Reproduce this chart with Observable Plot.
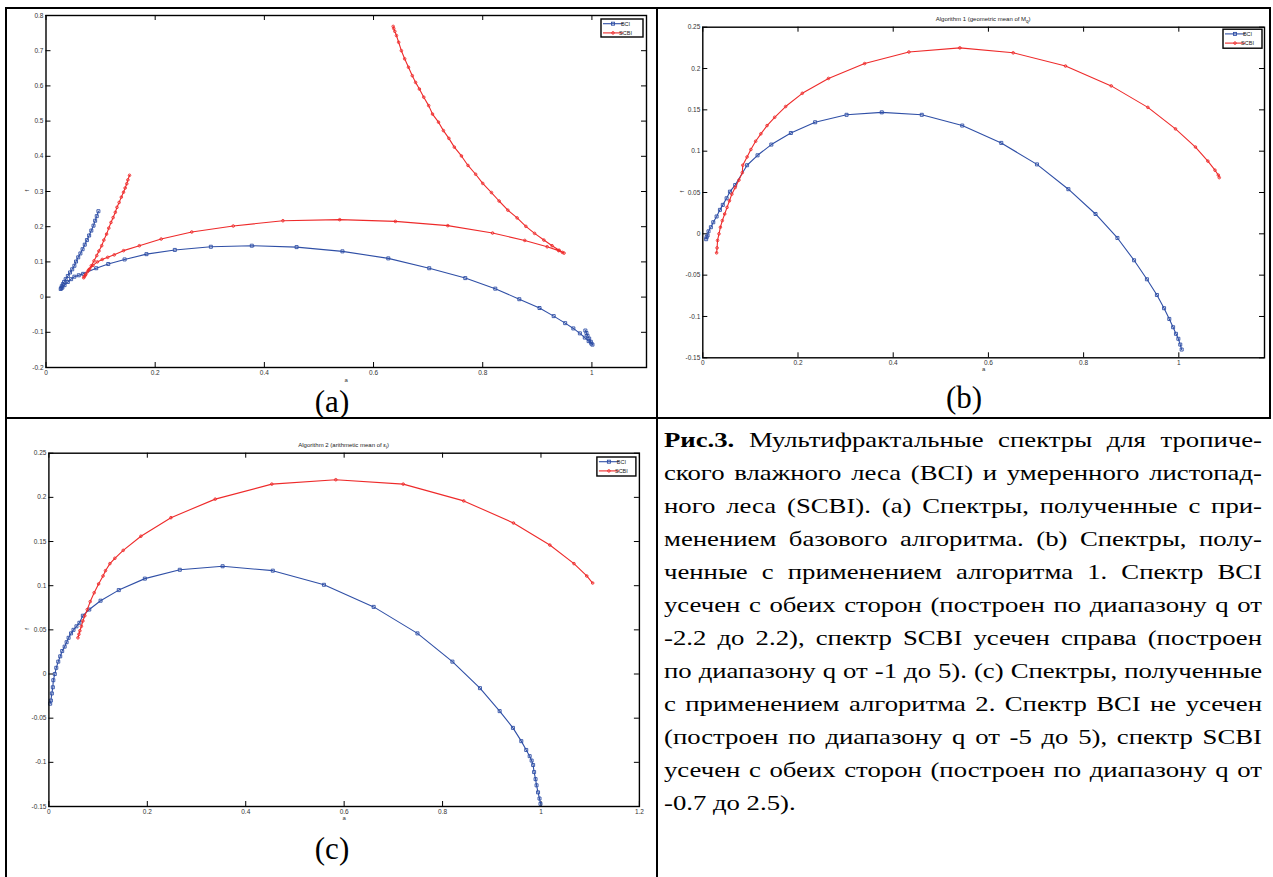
<!DOCTYPE html>
<html>
<head>
<meta charset="utf-8">
<script src="https://cdn.jsdelivr.net/npm/d3@7"></script>
<script src="https://cdn.jsdelivr.net/npm/@observablehq/plot@0.6"></script>
<style>
  html, body { margin: 0; padding: 0; background: #fff; }
  #page { position: relative; width: 1273px; height: 877px; overflow: hidden; background: #fff; }
  .plot { position: absolute; }
  .caption { position: absolute; left: 664px; top: 424px; width: 598px; font-family: "Liberation Serif", "Times New Roman", serif; font-size: 21.5px; line-height: 33px; color: #000; transform-origin: 0 0; }
  .caption div { white-space: nowrap; text-align: justify; text-align-last: justify; }
  .caption div.last { text-align-last: left; }
  .caption.measure div { text-align: left; text-align-last: left; }
</style>
</head>
<body>
<div id="page"></div>
<script>
// ---------- data ----------
const seriesNames = ["BCI", "SCBI"];

// (a) basic algorithm
const aBciX = [0.096,0.093,0.090,0.087,0.083,0.079,0.075,0.071,0.067,0.063,0.059,0.055,0.052,0.048,0.044,0.040,0.036,0.033,0.031,0.029,0.028,0.027,
  0.030,0.034,0.040,0.046,0.052,0.060,0.068,0.092,0.114,0.144,0.184,0.236,0.302,0.377,0.459,0.543,0.627,0.702,0.768,0.823,0.867,0.904,0.930,0.951,0.966,0.978,0.987,0.994,0.999,1.001,
  0.998,0.995,0.992,0.990,0.988];
const aBciY = [0.244,0.230,0.217,0.203,0.189,0.175,0.162,0.149,0.136,0.124,0.113,0.101,0.089,0.079,0.070,0.060,0.051,0.043,0.037,0.031,0.026,0.023,
  0.027,0.034,0.043,0.051,0.058,0.062,0.066,0.082,0.094,0.107,0.122,0.134,0.143,0.146,0.142,0.130,0.110,0.082,0.054,0.024,-0.006,-0.031,-0.054,-0.074,-0.089,-0.103,-0.115,-0.125,-0.132,-0.135,
  -0.127,-0.118,-0.110,-0.102,-0.095];
const aScbiX = [0.153,0.150,0.148,0.145,0.142,0.138,0.134,0.130,0.127,0.123,0.119,0.115,0.111,0.106,0.102,0.097,0.093,0.088,0.083,0.078,0.073,0.070,0.069,
  0.072,0.076,0.080,0.086,0.094,0.103,0.113,0.125,0.142,0.171,0.211,0.267,0.343,0.434,0.538,0.640,0.736,0.818,0.877,0.918,0.939,0.946,0.949,
  0.940,0.927,0.912,0.895,0.879,0.863,0.846,0.830,0.816,0.800,0.787,0.773,0.761,0.748,0.738,0.728,0.719,0.708,0.701,0.692,0.684,0.677,0.671,0.664,0.657,0.651,0.646,0.642,0.639,0.637,0.636];
const aScbiY = [0.346,0.333,0.322,0.310,0.298,0.284,0.269,0.255,0.241,0.226,0.212,0.196,0.179,0.162,0.146,0.131,0.118,0.103,0.089,0.077,0.065,0.058,0.055,
  0.062,0.072,0.080,0.090,0.100,0.107,0.113,0.120,0.132,0.146,0.165,0.185,0.202,0.217,0.220,0.215,0.203,0.182,0.161,0.143,0.132,0.127,0.125,
  0.133,0.146,0.162,0.181,0.201,0.225,0.247,0.273,0.297,0.323,0.349,0.374,0.401,0.426,0.451,0.473,0.497,0.520,0.544,0.568,0.591,0.610,0.629,0.653,0.677,0.700,0.724,0.743,0.755,0.763,0.769];

// (b) algorithm 1
const bBciX = [0.007,0.008,0.010,0.012,0.017,0.022,0.029,0.036,0.042,0.050,0.057,0.068,0.093,0.115,0.144,0.185,0.236,0.302,0.376,0.460,0.545,0.627,0.702,0.768,0.825,0.871,0.906,0.933,0.954,0.969,0.980,0.988,0.994,0.999,1.003,1.006];
const bBciY = [-0.0065,-0.004,-0.002,0.003,0.008,0.014,0.021,0.029,0.035,0.043,0.051,0.059,0.083,0.095,0.108,0.122,0.135,0.144,0.147,0.144,0.131,0.110,0.084,0.054,0.024,-0.005,-0.032,-0.055,-0.074,-0.090,-0.103,-0.113,-0.121,-0.127,-0.134,-0.140];
const bScbiX = [0.029,0.030,0.031,0.034,0.037,0.041,0.046,0.051,0.056,0.061,0.068,0.076,0.083,0.084,0.093,0.101,0.111,0.122,0.135,0.151,0.174,0.209,0.264,0.340,0.433,0.540,0.652,0.762,0.858,0.935,0.993,1.035,1.061,1.076,1.083,1.085];
const bScbiY = [-0.023,-0.017,-0.008,0.000,0.008,0.016,0.024,0.032,0.040,0.048,0.056,0.065,0.074,0.083,0.093,0.102,0.112,0.121,0.131,0.141,0.154,0.170,0.188,0.206,0.220,0.225,0.219,0.203,0.179,0.153,0.127,0.105,0.088,0.077,0.071,0.068];

// (c) algorithm 2
const cBciX = [0.0026,0.004,0.006,0.008,0.009,0.012,0.015,0.019,0.023,0.027,0.032,0.036,0.040,0.045,0.050,0.056,0.062,0.069,0.082,0.105,0.142,0.195,0.266,0.353,0.455,0.559,0.660,0.749,0.820,0.876,0.916,0.943,0.960,0.970,0.977,0.981,0.984,0.986,0.989,0.991,0.994,0.997,0.999];
const cBciY = [-0.0336,-0.030,-0.022,-0.015,-0.007,0.000,0.007,0.014,0.020,0.026,0.031,0.036,0.041,0.046,0.050,0.054,0.058,0.066,0.073,0.083,0.095,0.108,0.118,0.122,0.117,0.101,0.076,0.046,0.014,-0.016,-0.042,-0.061,-0.076,-0.086,-0.093,-0.098,-0.103,-0.111,-0.119,-0.126,-0.134,-0.141,-0.147];
const cScbiX = [0.059,0.061,0.063,0.066,0.069,0.073,0.078,0.084,0.092,0.101,0.110,0.115,0.124,0.134,0.151,0.187,0.248,0.338,0.453,0.583,0.720,0.843,0.944,1.018,1.067,1.093,1.105];
const cScbiY = [0.041,0.045,0.049,0.054,0.060,0.066,0.073,0.082,0.092,0.102,0.111,0.117,0.125,0.131,0.140,0.156,0.177,0.198,0.215,0.220,0.215,0.196,0.171,0.146,0.125,0.111,0.103];

// ticks
const xTicksAB = [0, 0.2, 0.4, 0.6, 0.8, 1];
const xTicksC = [0, 0.2, 0.4, 0.6, 0.8, 1, 1.2];
const yTicksA = [-0.2, -0.1, 0, 0.1, 0.2, 0.3, 0.4, 0.5, 0.6, 0.7, 0.8];
const yTicksBC = [-0.15, -0.1, -0.05, 0, 0.05, 0.1, 0.15, 0.2, 0.25];

const BLUE = "#2f4fa6";
const RED = "#ee2a2a";

function pts(xs, ys) { return xs.map((x, i) => ({x, y: ys[i]})); }
const fmt = d => String(+d.toFixed(2));

function makeChart(cfg) {
  const fw = cfg.width - cfg.mL - cfg.mR;
  const fh = cfg.height - cfg.mT - cfg.mB;
  const blue = pts(cfg.bx, cfg.by), red = pts(cfg.rx, cfg.ry);
  const svg = Plot.plot({
    width: cfg.width, height: cfg.height,
    marginLeft: cfg.mL, marginRight: cfg.mR, marginTop: cfg.mT, marginBottom: cfg.mB,
    x: {domain: cfg.xDomain},
    y: {domain: cfg.yDomain},
    style: {background: "white", fontFamily: "'Liberation Sans', Arial, sans-serif", fontSize: "6.5px", color: "#333", overflow: "visible"},
    marks: [
      Plot.axisX({ticks: cfg.xTicks, tickSize: 0, tickPadding: 2.5, tickFormat: fmt, label: null, fontSize: 6.5}),
      Plot.axisY({ticks: cfg.yTicks, tickSize: 0, tickPadding: 2.5, tickFormat: fmt, label: null, fontSize: 6.5}),
      Plot.ruleX(cfg.xTicks, {x: d => d, insetTop: fh - 5, stroke: "#000", strokeWidth: 1}),
      Plot.ruleX(cfg.xTicks, {x: d => d, insetBottom: fh - 5, stroke: "#000", strokeWidth: 1}),
      Plot.ruleY(cfg.yTicks, {y: d => d, insetRight: fw - 5, stroke: "#000", strokeWidth: 1}),
      Plot.ruleY(cfg.yTicks, {y: d => d, insetLeft: fw - 5, stroke: "#000", strokeWidth: 1}),
      Plot.line(blue, {x: "x", y: "y", stroke: BLUE, strokeWidth: 1.1}),
      Plot.dot(blue, {x: "x", y: "y", symbol: "square", r: 1.7, stroke: BLUE, strokeWidth: 0.9, fill: "none"}),
      Plot.line(red, {x: "x", y: "y", stroke: RED, strokeWidth: 1.1}),
      Plot.dot(red, {x: "x", y: "y", symbol: "circle", r: 1.3, stroke: RED, strokeWidth: 0.9, fill: "none"}),
      Plot.frame({stroke: "#000", strokeWidth: 1.4}),
      Plot.text(["a"], {frameAnchor: "bottom", dy: cfg.aDy, fontSize: 6, fill: "#333"}),
      Plot.text(["f"], {frameAnchor: "left", dx: cfg.fDx, rotate: -90, fontSize: 6, fill: "#333"})
    ]
  });
  svg.classList.add("plot");
  svg.style.left = cfg.left + "px";
  svg.style.top = cfg.top + "px";
  const s = d3.select(svg);
  const fx1 = cfg.mL, fx2 = cfg.width - cfg.mR, fy1 = cfg.mT;
  if (cfg.title) {
    const t = s.append("text").attr("x", (fx1 + fx2) / 2).attr("y", fy1 - 6).attr("text-anchor", "middle")
      .attr("font-size", 6).attr("fill", "#222").attr("font-family", "'Liberation Sans', Arial, sans-serif");
    t.append("tspan").text(cfg.title[0]);
    t.append("tspan").attr("font-size", 4.5).attr("dy", 1.8).text(cfg.title[1]);
    t.append("tspan").attr("dy", -1.8).text(cfg.title[2]);
  }
  const L = cfg.legend;
  const bx = fx2 - L.right - L.w, by = fy1 + L.top;
  const g = s.append("g");
  g.append("rect").attr("x", bx).attr("y", by).attr("width", L.w).attr("height", L.h)
    .attr("fill", "white").attr("stroke", "#000").attr("stroke-width", 1.4);
  seriesNames.forEach((name, i) => {
    const yy = by + 4.7 + i * 9.2;
    const col = i === 0 ? BLUE : RED;
    g.append("line").attr("x1", bx + 2).attr("x2", bx + 22).attr("y1", yy).attr("y2", yy).attr("stroke", col).attr("stroke-width", 1.1);
    if (i === 0) g.append("rect").attr("x", bx + 10.5).attr("y", yy - 1.5).attr("width", 3).attr("height", 3).attr("fill", "none").attr("stroke", col).attr("stroke-width", 0.9);
    else g.append("circle").attr("cx", bx + 12).attr("cy", yy).attr("r", 1.3).attr("fill", "none").attr("stroke", col).attr("stroke-width", 0.9);
    g.append("text").attr("x", bx + 24.5).attr("y", yy).attr("dy", "0.35em").attr("font-size", 5.5)
      .attr("fill", "#222").attr("font-family", "'Liberation Sans', Arial, sans-serif").text(name);
  });
  return svg;
}

const page = document.getElementById("page");

page.appendChild(makeChart({
  left: 7, top: 9, width: 649, height: 385, mL: 38.5, mR: 10, mT: 6, mB: 27,
  xDomain: [0, 1.1], yDomain: [-0.2, 0.8], xTicks: xTicksAB, yTicks: yTicksA,
  bx: aBciX, by: aBciY, rx: aScbiX, ry: aScbiY, aDy: 14, fDx: -19,
  legend: {right: 3, top: 4, w: 42, h: 18}
}));
page.appendChild(makeChart({
  left: 658, top: 9, width: 611, height: 385, mL: 44.3, mR: 5, mT: 17.7, mB: 36.7,
  xDomain: [0, 1.18], yDomain: [-0.15, 0.25], xTicks: xTicksAB, yTicks: yTicksBC,
  bx: bBciX, by: bBciY, rx: bScbiX, ry: bScbiY, aDy: 13, fDx: -21,
  title: ["Algorithm 1 (geometric mean of M", "q", ")"],
  legend: {right: 2, top: 2.5, w: 39, h: 19}
}));
page.appendChild(makeChart({
  left: 7, top: 419, width: 649, height: 420, mL: 41.4, mR: 17.1, mT: 33.7, mB: 33,
  xDomain: [0, 1.2], yDomain: [-0.15, 0.25], xTicks: xTicksC, yTicks: yTicksBC,
  bx: cBciX, by: cBciY, rx: cScbiX, ry: cScbiY, aDy: 13, fDx: -22,
  title: ["Algorithm 2 (arithmetic mean of ε", "i", ")"],
  legend: {right: 3, top: 4.3, w: 39, h: 19}
}));

// table borders and panel labels
const over = d3.select(page).append("svg").attr("width", 1273).attr("height", 877)
  .style("position", "absolute").style("left", "0px").style("top", "0px").style("pointer-events", "none");
const borders = [
  [5, 8, 1271, 8], [6, 7, 6, 877], [657, 7, 657, 877], [1270, 7, 1270, 419], [5, 418, 1271, 418]
];
borders.forEach(b => over.append("line").attr("x1", b[0]).attr("y1", b[1]).attr("x2", b[2]).attr("y2", b[3])
  .attr("stroke", "#000").attr("stroke-width", 2));
[["(a)", 332, 412], ["(b)", 964, 407.5], ["(c)", 332, 858.5]].forEach(([t, x, y]) =>
  over.append("text").attr("x", x).attr("y", y).attr("text-anchor", "middle")
    .attr("font-family", "'Liberation Serif', 'Times New Roman', serif").attr("font-size", 31).text(t));

// caption
const captionLines = [
  "<b>Рис.3.</b> Мультифрактальные спектры для тропиче-",
  "ского влажного леса (BCI) и умеренного листопад-",
  "ного леса (SCBI). (a) Спектры, полученные с при-",
  "менением базового алгоритма. (b) Спектры, полу-",
  "ченные с применением алгоритма 1. Спектр BCI",
  "усечен с обеих сторон (построен по диапазону q от",
  "-2.2 до 2.2), спектр SCBI усечен справа (построен",
  "по диапазону q от -1 до 5). (c) Спектры, полученные",
  "с применением алгоритма 2. Спектр BCI не усечен",
  "(построен по диапазону q от -5 до 5), спектр SCBI",
  "усечен с обеих сторон (построен по диапазону q от",
  "-0.7 до 2.5)."
];
const CAP_W = 598;
const cap = document.createElement("div");
cap.className = "caption measure";
cap.innerHTML = captionLines.map((l, i) => `<div class="${i === captionLines.length - 1 ? "last" : ""}"><span>${l}</span></div>`).join("");
page.appendChild(cap);
// measure natural (unjustified) widths, then stretch horizontally so the widest line fills the cell
let maxW = 0;
cap.querySelectorAll("div span").forEach((sp, i) => {
  if (i < captionLines.length - 1) maxW = Math.max(maxW, sp.getBoundingClientRect().width);
});
cap.classList.remove("measure");
const sx = maxW > 0 ? (CAP_W - 3) / maxW : 1;
cap.style.width = (CAP_W / sx) + "px";
cap.style.transform = `scaleX(${sx})`;
</script>
</body>
</html>
